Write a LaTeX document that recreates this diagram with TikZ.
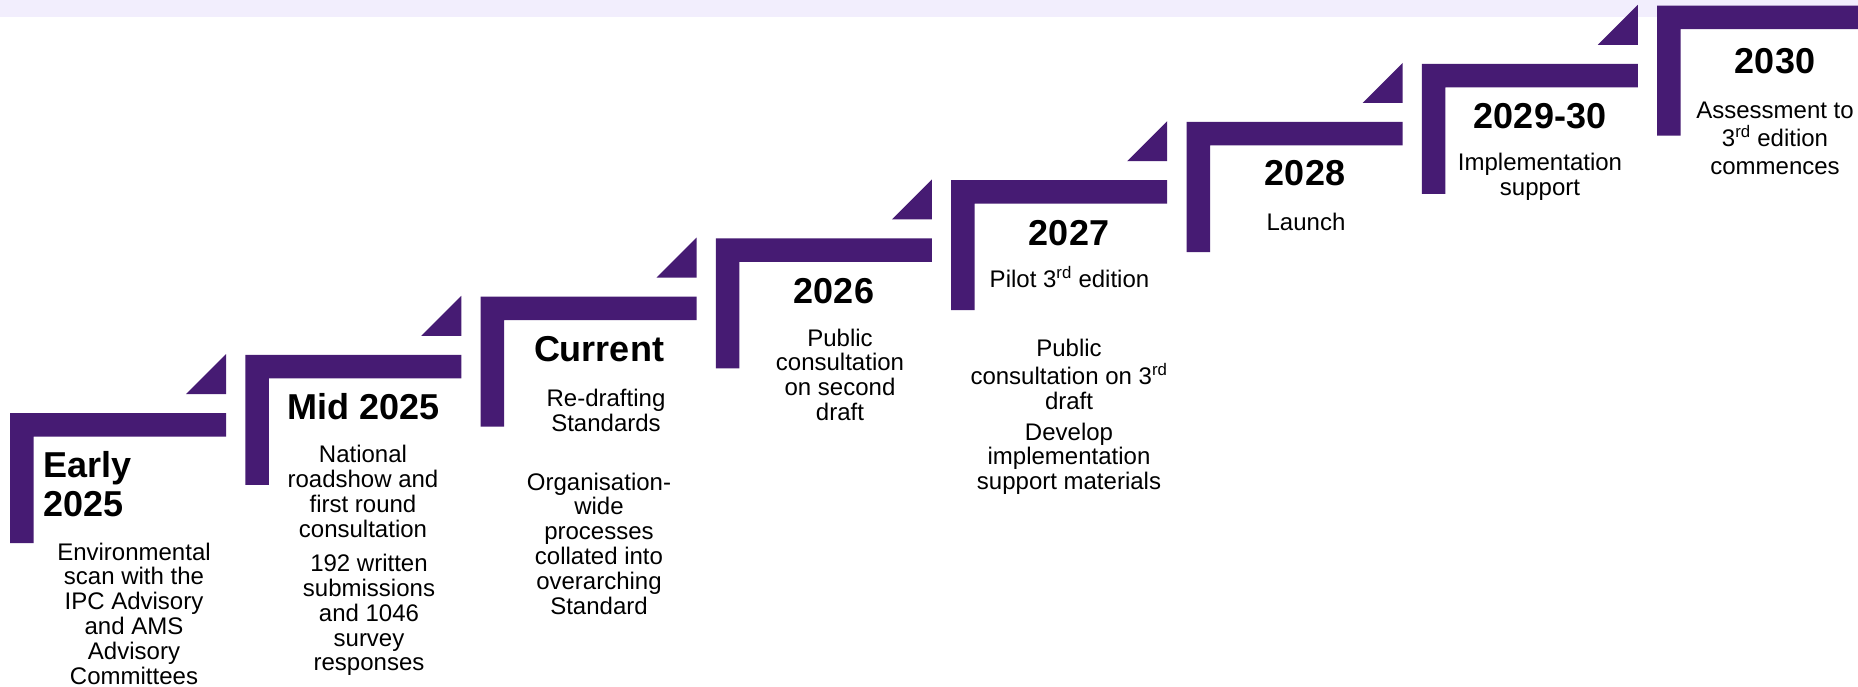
\documentclass[tikz,border=0pt]{standalone}
\usepackage{fontspec}
\setmainfont{Liberation Sans}
\definecolor{tlpurple}{RGB}{70,27,115}
\definecolor{tlband}{RGB}{242,238,253}
\newcommand{\stk}[1]{\begin{tabular}[t]{@{}c@{}}#1\end{tabular}}
\newcommand{\stkl}[1]{\begin{tabular}[t]{@{}l@{}}#1\end{tabular}}
\tikzset{
  bracketfill/.style={fill=tlpurple, draw=none},
  yeartext/.style={inner sep=0pt, anchor=base, font=\fontsize{36}{38.3}\selectfont\bfseries},
  desctext/.style={inner sep=0pt, anchor=base, font=\fontsize{24}{24.8}\selectfont},
}
\begin{document}
\begin{tikzpicture}[x=1pt,y=-1pt]
\clip (0,0) rectangle (1858,687);
\fill[white] (0,0) rectangle (1858,687);
\fill[tlband] (0,0) rectangle (1858,17.5);
% brackets
\foreach \i in {0,...,7} {
  \pgfmathsetmacro\L{10+235.3*\i}
  \pgfmathsetmacro\T{413-58.2*\i}
  \fill[bracketfill] (\L,\T) -- ++(216,0) -- ++(0,23.5) -- ++(-192.5,0) -- ++(0,106.5) -- ++(-23.5,0) -- cycle;
}
% triangles
\foreach \i in {0,...,6} {
  \pgfmathsetmacro\R{226+235.3*\i}
  \pgfmathsetmacro\T{413-58.2*\i}
  \fill[bracketfill] (\R,\T-59) -- (\R,\T-19) -- (\R-40,\T-19) -- cycle;
}
% Early 2025
\node[yeartext, anchor=base west] (y1) at (43,477.7) {\stkl{Early\\2025}};
\node[desctext] (d1) at (134,560) {\stk{Environmental\\scan with the\\IPC Advisory\\and AMS\\Advisory\\Committees}};
% Mid 2025
\node[yeartext] (y2) at (364,419.3) {Mid 2025};
\node[desctext] (d2a) at (363,462.7) {\stk{National\\roadshow and\\first round\\consultation}};
\node[desctext] (d2b) at (369,571.7) {\stk{192 written\\submissions\\and 1046\\survey\\responses}};
% Current
\node[yeartext] (y3) at (599,361.7) {Current};
\node[desctext] (d3a) at (606,406.7) {\stk{Re-drafting\\Standards}};
\node[desctext] (d3b) at (599,490) {\stk{Organisation-\\wide\\processes\\collated into\\overarching\\Standard}};
% 2026
\node[yeartext] (y4) at (834,303.3) {2026};
\node[desctext] (d4) at (840,346) {\stk{Public\\consultation\\on second\\draft}};
% 2027
\node[yeartext] (y5) at (1069,245) {2027};
\node[desctext] (d5a) at (1069.5,287.7) {Pilot 3\textsuperscript{rd} edition};
\node[desctext] (d5b) at (1069,356) {\stk{Public\\consultation on 3\textsuperscript{rd}\\draft}};
\node[desctext] (d5c) at (1069,440) {\stk{Develop\\implementation\\support materials}};
% 2028
\node[yeartext] (y6) at (1305,186) {2028};
\node[desctext] (d6) at (1306,230) {Launch};
% 2029-30
\node[yeartext] (y7) at (1540,128.3) {2029-30};
\node[desctext] (d7) at (1540,170.7) {\stk{Implementation\\support}};
% 2030
\node[yeartext] (y8) at (1775,73.3) {2030};
\node[desctext] (d8a) at (1775,118.3) {\stk{Assessment to\\3\textsuperscript{rd} edition}};
\node[desctext] (d8b) at (1775,175) {commences};
\end{tikzpicture}
\end{document}
